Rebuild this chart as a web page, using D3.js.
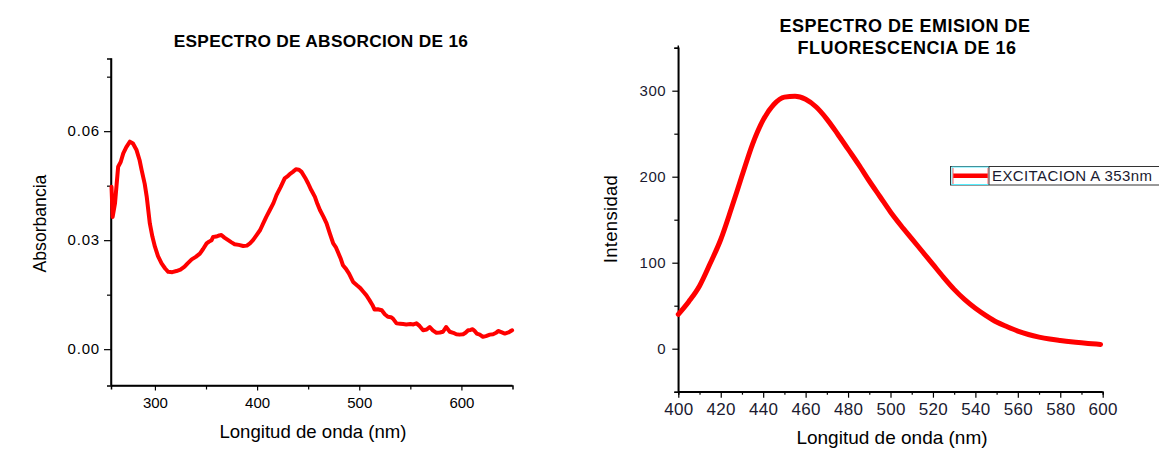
<!DOCTYPE html>
<html><head><meta charset="utf-8">
<script src="https://cdn.jsdelivr.net/npm/d3@7"></script>
<style>
html,body{margin:0;padding:0;background:#fff;}
svg{display:block;font-family:"Liberation Sans",Arial,sans-serif;}
</style></head>
<body>
<svg id="c" width="1159" height="455"></svg>
<script>
// ---------- DATA ----------
const absWavelength = [257.5,258.6,260.9,264,266.5,269,272,275.5,278.5,282,285,287,290,292,295,297.5,300,303,306.5,310,313,317,321,325,329,332,336,340,344,347,350.6,353,355.5,357,360,363,365,368,371.7,375,378,382,386.4,390,393,396,399.5,403,406,409,412.5,416,419,423,427,430,432,435,438,441,443.5,447,450,453,456.6,459,461.5,465,468,471,474.5,477,479,482,484,487,490,494,498,501,504,507,510,513,515,518,522,525,528,531,533,536.5,540,543,546,550,553,556,559,562.5,566,569,572,575.6,579,582,585,588.6,592,595,598,601.7,604,606.6,609,611,613,615,618,621,624,627.8,631,634,636,639,642.5,646,649.6];
const absValue = [0.0447,0.0364,0.0401,0.0502,0.0515,0.0539,0.0556,0.0571,0.0566,0.0548,0.0520,0.0493,0.0455,0.0419,0.0346,0.0310,0.0282,0.0256,0.0236,0.0222,0.0213,0.0212,0.0215,0.0219,0.0227,0.0236,0.0247,0.0254,0.0263,0.0275,0.0291,0.0296,0.0300,0.0309,0.0310,0.0313,0.0314,0.0307,0.0300,0.0294,0.0289,0.0287,0.0284,0.0285,0.0291,0.0300,0.0314,0.0328,0.0346,0.0364,0.0383,0.0402,0.0424,0.0446,0.0470,0.0476,0.0482,0.0488,0.0495,0.0494,0.0488,0.0472,0.0456,0.0438,0.0419,0.0400,0.0383,0.0364,0.0346,0.0320,0.0291,0.0281,0.0268,0.0248,0.0231,0.0221,0.0208,0.0185,0.0175,0.0168,0.0158,0.0148,0.0135,0.0121,0.0109,0.0110,0.0107,0.0096,0.0089,0.0088,0.0084,0.0071,0.0070,0.0069,0.0068,0.0069,0.0068,0.0071,0.0064,0.0052,0.0054,0.0061,0.0052,0.0045,0.0046,0.0048,0.0061,0.0048,0.0045,0.0041,0.0040,0.0041,0.0045,0.0052,0.0053,0.0055,0.0050,0.0043,0.0040,0.0034,0.0036,0.0040,0.0041,0.0045,0.0050,0.0047,0.0043,0.0046,0.0052];
const absXTicks = [300,400,500,600];
const absYTicks = [0.00,0.03,0.06];

const emWavelength = [400,405,410,415,420,425,430,435,440,445,450,455,460,465,470,475,480,485,490,495,500,505,510,515,520,525,530,535,540,545,550,555,560,565,570,575,580,585,590,595,599];
const emIntensity = [40,55,73,99,127,163,201,238,266,284,292.5,293.5,290,281,267,250,232,214,195,177,159,143,128,113,98,83,69,57,47,38.5,31,25.5,20.5,16.5,13.5,11.2,9.5,8,6.8,5.8,5];
const emXTicks = [400,420,440,460,480,500,520,540,560,580,600];
const emYTicks = [0,100,200,300];
const legendLabel = "EXCITACION A 353nm";

const svg = d3.select("#c");
const FONT = '"Liberation Sans",Arial,sans-serif';

// ---------- LEFT CHART ----------
{
  const x = d3.scaleLinear().domain([257,650]).range([111,512.5]);
  const y = d3.scaleLinear().domain([-0.01,0.08]).range([385.5,58.5]);
  const g = svg.append("g");
  const xMinor = [350,450,550];
  const yMinor = [0.015,0.045,0.075];
  const gx = g.append("g").attr("transform","translate(0,385.5)")
    .call(d3.axisBottom(x).tickValues(absXTicks).tickSize(5).tickPadding(7).tickFormat(d3.format("d")));
  const gy = g.append("g").attr("transform","translate(111,0)")
    .call(d3.axisLeft(y).tickValues(absYTicks).tickSize(7).tickPadding(4).tickFormat(d3.format(".2f")));
  g.append("g").attr("transform","translate(0,385.5)").call(d3.axisBottom(x).tickValues(xMinor).tickSize(4).tickFormat(""));
  g.append("g").attr("transform","translate(111,0)").call(d3.axisLeft(y).tickValues(yMinor).tickSize(4).tickFormat(""));
  g.selectAll(".domain").attr("stroke","#000").attr("stroke-width",1.5);
  g.selectAll(".tick line").attr("stroke","#000").attr("stroke-width",1.2);
  g.selectAll(".tick text").attr("fill","#000").style("font-size","15px").style("font-family",FONT);
  gy.selectAll(".tick text").style("letter-spacing","0.8px");
  gx.selectAll(".domain").attr("d", `M111,0H512.5`);
  gy.selectAll(".domain").attr("d", `M0,58.5V385.5`);

  const line = d3.line().x((d,i)=>x(absWavelength[i])).y(d=>y(d)).curve(d3.curveLinear);
  g.append("path").datum(absValue).attr("d",line).attr("fill","none")
    .attr("stroke","#ff0000").attr("stroke-width",4).attr("stroke-linejoin","round").attr("stroke-linecap","round");

  g.append("text").attr("x",321).attr("y",47).attr("text-anchor","middle")
    .style("font-size","17.3px").style("font-weight","bold").style("letter-spacing","0.3px").text("ESPECTRO DE ABSORCION DE 16");
  g.append("text").attr("x",313).attr("y",438).attr("text-anchor","middle")
    .style("font-size","18.6px").text("Longitud de onda (nm)");
  g.append("text").attr("transform","translate(45.5,223.5) rotate(-90)").attr("text-anchor","middle")
    .style("font-size","17.6px").text("Absorbancia");
}

// ---------- RIGHT CHART ----------
{
  const x = d3.scaleLinear().domain([400,600]).range([678.3,1102.7]);
  const y = d3.scaleLinear().domain([-50,350]).range([391.7,47.7]);
  const g = svg.append("g");
  const xMinor = d3.range(410,600,20);
  const yMinor = [-50,50,150,250,350];
  const gx = g.append("g").attr("transform","translate(0,391.7)")
    .call(d3.axisBottom(x).tickValues(emXTicks).tickSize(6).tickPadding(5).tickFormat(d3.format("d")));
  const gy = g.append("g").attr("transform","translate(678.3,0)")
    .call(d3.axisLeft(y).tickValues(emYTicks).tickSize(6).tickPadding(6).tickFormat(d3.format("d")));
  g.append("g").attr("transform","translate(0,391.7)").call(d3.axisBottom(x).tickValues(xMinor).tickSize(3).tickFormat(""));
  g.append("g").attr("transform","translate(678.3,0)").call(d3.axisLeft(y).tickValues(yMinor).tickSize(4).tickFormat(""));
  g.selectAll(".domain").attr("stroke","#000").attr("stroke-width",1.5);
  g.selectAll(".tick line").attr("stroke","#000").attr("stroke-width",1.2);
  g.selectAll(".tick text").attr("fill","#1a1a30").style("font-family",FONT);
  gy.selectAll(".tick text").style("font-size","15px").style("letter-spacing","0.6px");
  gx.selectAll(".tick text").style("font-size","17px").style("letter-spacing","0.3px");
  gx.selectAll(".domain").attr("d", `M678.3,0H1102.7`);
  gy.selectAll(".domain").attr("d", `M0,45.5V391.7`);

  const line = d3.line().x((d,i)=>x(emWavelength[i])).y(d=>y(d)).curve(d3.curveMonotoneX);
  g.append("path").datum(emIntensity).attr("d",line).attr("fill","none")
    .attr("stroke","#ff0000").attr("stroke-width",5).attr("stroke-linejoin","round").attr("stroke-linecap","round");

  g.append("text").attr("x",905).attr("y",31.5).attr("text-anchor","middle")
    .style("font-size","18px").style("font-weight","bold").style("letter-spacing","0.5px").text("ESPECTRO DE EMISION DE");
  g.append("text").attr("x",907).attr("y",54).attr("text-anchor","middle")
    .style("font-size","18px").style("font-weight","bold").style("letter-spacing","0.5px").text("FLUORESCENCIA DE 16");
  g.append("text").attr("x",892).attr("y",444).attr("text-anchor","middle")
    .style("font-size","19px").text("Longitud de onda (nm)");
  g.append("text").attr("transform","translate(616.5,219) rotate(-90)").attr("text-anchor","middle")
    .style("font-size","18.5px").style("letter-spacing","0.3px").text("Intensidad");

  // legend
  const lg = g.append("g");
  lg.append("rect").attr("x",950.5).attr("y",166.5).attr("width",210).attr("height",18.5)
    .attr("fill","#fff").attr("stroke","#333").attr("stroke-width",1);
  lg.append("rect").attr("x",952).attr("y",167).attr("width",36.5).attr("height",17.5)
    .attr("fill","none").attr("stroke","#55eeff").attr("stroke-width",1);
  lg.append("line").attr("x1",989).attr("x2",989).attr("y1",166.5).attr("y2",185).attr("stroke","#333");
  lg.append("line").attr("x1",953).attr("x2",988).attr("y1",175.7).attr("y2",175.7).attr("stroke","#ff0000").attr("stroke-width",4.5);
  lg.append("line").attr("x1",953).attr("x2",953).attr("y1",168).attr("y2",184).attr("stroke","#ff6666").attr("stroke-width",1);
  lg.append("line").attr("x1",988).attr("x2",988).attr("y1",168).attr("y2",184).attr("stroke","#ff6666").attr("stroke-width",1);
  lg.append("text").attr("x",992).attr("y",181).attr("fill","#1a1a30")
    .style("font-size","15px").style("letter-spacing","0.4px").text(legendLabel);
}
</script>
</body></html>
